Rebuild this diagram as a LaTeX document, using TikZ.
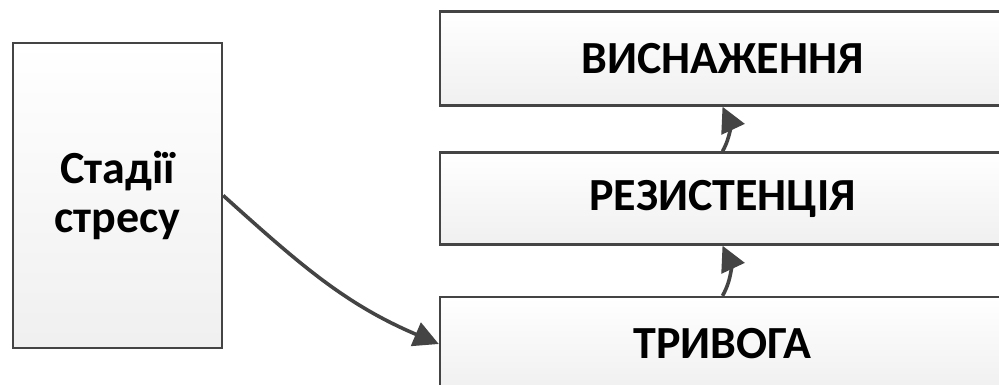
\documentclass[tikz,border=0pt]{standalone}
\usepackage{fontspec}
\setmainfont{Carlito}
\usetikzlibrary{arrows.meta}
\definecolor{edge}{HTML}{444444}
\tikzset{
  box/.style={draw=edge, line width=2.4pt, top color=white, bottom color=gray!12,
    shading angle=0, inner sep=0pt, font=\bfseries\fontsize{46}{49}\selectfont,
    align=center, text=black},
  arr/.style={draw=edge, line width=3.6pt, -{Triangle[length=25pt,width=25pt]}}
}
\begin{document}
\begin{tikzpicture}[x=1pt,y=-1pt]
\useasboundingbox (0,0) rectangle (999,385);
\clip (0,0) rectangle (999,385);
\node[box, minimum width=209pt, minimum height=305pt] (stages) at (117.5,195.5) {Стадії\\стресу};
\node[box, minimum width=565pt, minimum height=94pt] (exh) at (722.5,58.5) {ВИСНАЖЕННЯ};
\node[box, minimum width=565pt, minimum height=92pt] (res) at (722.5,198.5) {РЕЗИСТЕНЦІЯ};
\node[box, minimum width=565pt, minimum height=94pt] (alarm) at (722.5,344) {ТРИВОГА};
\draw[arr] (stages.east) to[out=-42,in=157] (alarm.west);
\draw[arr] (alarm.north) to[out=60,in=-65] (res.south);
\draw[arr] (res.north) to[out=60,in=-65] (exh.south);
\end{tikzpicture}
\end{document}
